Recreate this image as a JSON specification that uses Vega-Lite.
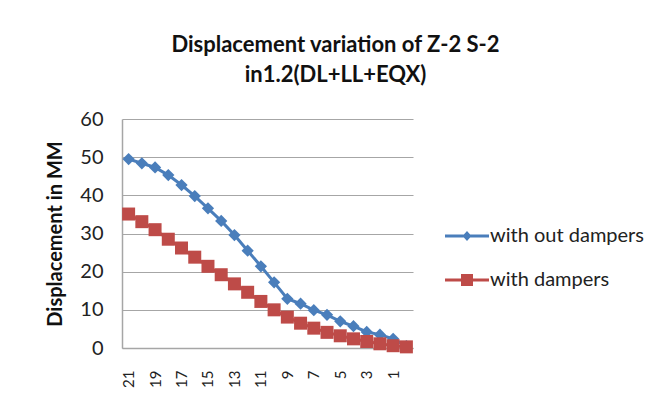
{
  "$schema": "https://vega.github.io/schema/vega-lite/v6.json",
  "autosize": "none",
  "width": 291,
  "height": 229,
  "padding": {"left": 122, "top": 119, "right": 258, "bottom": 66},
  "background": "white",
  "title": {
    "text": ["Displacement variation of Z-2 S-2", "in1.2(DL+LL+EQX)"],
    "anchor": "middle",
    "frame": "group",
    "dx": 68,
    "offset": 22,
    "font": "Lato",
    "fontSize": 22,
    "fontWeight": "bold",
    "color": "#111",
    "lineHeight": 30
  },
  "data": {
    "values": [
      {"floor": 21, "series": "with out dampers", "disp": 49.5},
      {"floor": 20, "series": "with out dampers", "disp": 48.4},
      {"floor": 19, "series": "with out dampers", "disp": 47.3},
      {"floor": 18, "series": "with out dampers", "disp": 45.3},
      {"floor": 17, "series": "with out dampers", "disp": 42.7},
      {"floor": 16, "series": "with out dampers", "disp": 39.8},
      {"floor": 15, "series": "with out dampers", "disp": 36.6},
      {"floor": 14, "series": "with out dampers", "disp": 33.3},
      {"floor": 13, "series": "with out dampers", "disp": 29.6},
      {"floor": 12, "series": "with out dampers", "disp": 25.5},
      {"floor": 11, "series": "with out dampers", "disp": 21.4},
      {"floor": 10, "series": "with out dampers", "disp": 17.2},
      {"floor": 9, "series": "with out dampers", "disp": 12.9},
      {"floor": 8, "series": "with out dampers", "disp": 11.6},
      {"floor": 7, "series": "with out dampers", "disp": 9.9},
      {"floor": 6, "series": "with out dampers", "disp": 8.7},
      {"floor": 5, "series": "with out dampers", "disp": 7.0},
      {"floor": 4, "series": "with out dampers", "disp": 5.7},
      {"floor": 3, "series": "with out dampers", "disp": 4.2},
      {"floor": 2, "series": "with out dampers", "disp": 3.5},
      {"floor": 1, "series": "with out dampers", "disp": 2.4},
      {"floor": 0, "series": "with out dampers", "disp": 0.5},
      {"floor": 21, "series": "with dampers", "disp": 35.1},
      {"floor": 20, "series": "with dampers", "disp": 33.1},
      {"floor": 19, "series": "with dampers", "disp": 31.0},
      {"floor": 18, "series": "with dampers", "disp": 28.5},
      {"floor": 17, "series": "with dampers", "disp": 26.2},
      {"floor": 16, "series": "with dampers", "disp": 23.8},
      {"floor": 15, "series": "with dampers", "disp": 21.4},
      {"floor": 14, "series": "with dampers", "disp": 19.2},
      {"floor": 13, "series": "with dampers", "disp": 16.8},
      {"floor": 12, "series": "with dampers", "disp": 14.6},
      {"floor": 11, "series": "with dampers", "disp": 12.2},
      {"floor": 10, "series": "with dampers", "disp": 10.0},
      {"floor": 9, "series": "with dampers", "disp": 8.1},
      {"floor": 8, "series": "with dampers", "disp": 6.5},
      {"floor": 7, "series": "with dampers", "disp": 5.2},
      {"floor": 6, "series": "with dampers", "disp": 4.1},
      {"floor": 5, "series": "with dampers", "disp": 3.2},
      {"floor": 4, "series": "with dampers", "disp": 2.4},
      {"floor": 3, "series": "with dampers", "disp": 1.7},
      {"floor": 2, "series": "with dampers", "disp": 1.1},
      {"floor": 1, "series": "with dampers", "disp": 0.6},
      {"floor": 0, "series": "with dampers", "disp": 0.3}
    ]
  },
  "encoding": {
    "x": {
      "field": "floor",
      "type": "ordinal",
      "sort": "descending",
      "scale": {"type": "point", "padding": 0.5},
      "axis": {
        "title": null,
        "values": [21, 19, 17, 15, 13, 11, 9, 7, 5, 3, 1],
        "labelAngle": 270,
        "labelFont": "Lato",
        "labelFontSize": 15,
        "labelColor": "#222",
        "labelPadding": 22,
        "ticks": false,
        "domainColor": "#a6a6a6",
        "domainWidth": 1.5,
        "grid": false
      }
    },
    "y": {
      "field": "disp",
      "type": "quantitative",
      "scale": {"domain": [0, 60]},
      "axis": {
        "title": "Displacement in MM",
        "titleFont": "Lato",
        "titleFontSize": 20,
        "titleFontWeight": "bold",
        "titleColor": "#111",
        "titlePadding": 14,
        "values": [0, 10, 20, 30, 40, 50, 60],
        "labelFont": "Lato",
        "labelFontSize": 20,
        "labelColor": "#222",
        "labelPadding": 19,
        "ticks": false,
        "domainColor": "#a6a6a6",
        "domainWidth": 1.5,
        "grid": true,
        "gridColor": "#a6a6a6",
        "gridWidth": 1.2
      }
    },
    "color": {
      "field": "series",
      "type": "nominal",
      "scale": {"domain": ["with out dampers", "with dampers"], "range": ["#4a7ebb", "#be4b48"]},
      "legend": null
    }
  },
  "layer": [
    {
      "mark": {"type": "line", "strokeWidth": 3},
      "encoding": {
        "color": {
          "field": "series",
          "type": "nominal",
          "scale": {"domain": ["with out dampers", "with dampers"], "range": ["#4a7ebb", "#be4b48"]},
          "legend": {
            "title": null,
            "orient": "none",
            "legendX": 335,
            "legendY": 107,
            "padding": 0,
            "symbolSize": 400,
            "labelOffset": 13,
            "labelFont": "Lato",
            "labelFontSize": 20,
            "labelColor": "#222",
            "rowPadding": 24,
            "encode": {
              "symbols": {
                "update": {
                  "shape": {"signal": "datum.value === 'with dampers' ? 'M-2.2,-0.15L2.2,-0.15L2.2,0.15L-2.2,0.15ZM-0.6,-0.6L0.6,-0.6L0.6,0.6L-0.6,0.6Z' : 'M-2.2,-0.15L2.2,-0.15L2.2,0.15L-2.2,0.15ZM0,-0.5L0.45,0L0,0.5L-0.45,0Z'"},
                  "size": {"value": 400},
                  "strokeWidth": {"value": 0},
                  "opacity": {"value": 1},
                  "fillOpacity": {"value": 1},
                  "fill": {"signal": "datum.value === 'with dampers' ? '#be4b48' : '#4a7ebb'"}
                }
              }
            }
          }
        }
      }
    },
    {
      "transform": [{"filter": "datum.series === 'with out dampers'"}],
      "mark": {"type": "point", "filled": true, "opacity": 1, "shape": "diamond", "size": 150}
    },
    {
      "transform": [{"filter": "datum.series === 'with dampers'"}],
      "mark": {"type": "point", "filled": true, "opacity": 1, "shape": "square", "size": 169}
    }
  ],
  "config": {
    "view": {"stroke": null}
  }
}
